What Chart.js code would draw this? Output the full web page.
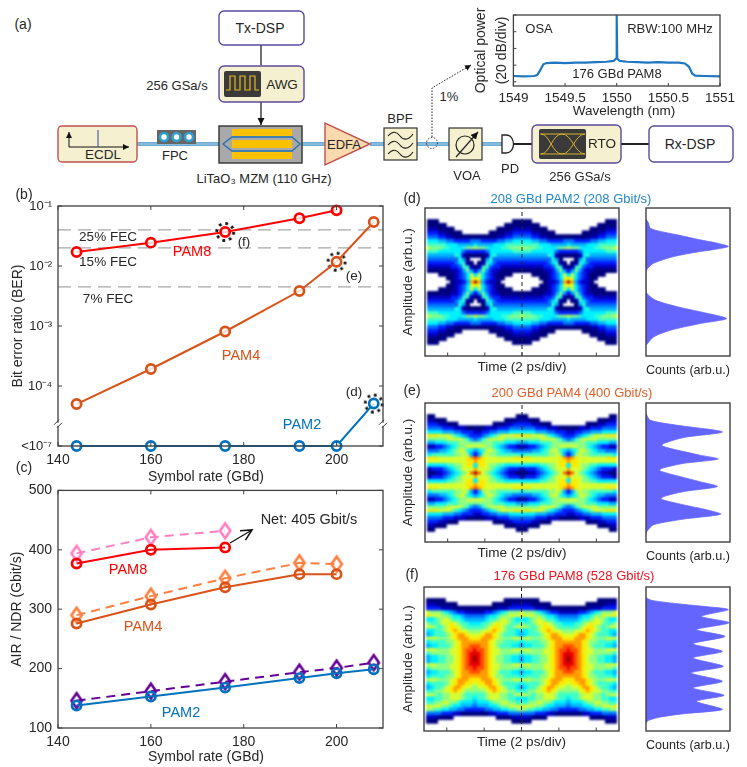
<!DOCTYPE html>
<html>
<head>
<meta charset="utf-8">
<title>PAM transmission results</title>
<script src="https://cdn.jsdelivr.net/npm/chart.js@4/dist/chart.umd.js"></script>
<style>
  html, body { margin: 0; padding: 0; background: #fff; }
  #page { position: relative; width: 747px; height: 767px; overflow: hidden; font-family: "Liberation Sans", Arial, sans-serif; color: #222; }
  #page canvas { position: absolute; }
  #page svg { position: absolute; left: 0; top: 0; }
  .note { position: absolute; transform: translate(-50%, -50%); white-space: nowrap; line-height: 1; }
  .clip { position: absolute; overflow: hidden; }
  .clip canvas { filter: blur(1.1px); }
</style>
</head>
<body>
<div id="page">
<svg width="747" height="767" viewBox="0 0 747 767">
  <defs>
    <marker id="tip" markerWidth="7" markerHeight="7" refX="6" refY="3" orient="auto"><path d="M0,0 L6,3 L0,6 Z" fill="#111"/></marker>
    <marker id="open" markerWidth="12" markerHeight="12" refX="10" refY="5" orient="auto"><path d="M1,0.5 L10,5 L1,9.5" fill="none" stroke="#111" stroke-width="1.3"/></marker>
  </defs>
  <!-- fibre -->
  <g stroke="#3f8fc4" stroke-width="3.5" fill="none">
    <path d="M137 144H219M302 144H325M370 144H385M417 144H449M482 144H502"/>
  </g>
  <g stroke="#cfe6f2" stroke-width="1" fill="none">
    <path d="M137 144H219M302 144H325M370 144H385M417 144H449M482 144H502"/>
  </g>
  <path d="M513 144H532M621 144H649" stroke="#222" stroke-width="2"/>
  <path d="M261 45V65M261 102V125" stroke="#111" stroke-width="1.2" marker-end="url(#tip)"/>
  <!-- boxes -->
  <rect x="219" y="11" width="85" height="34" rx="5" fill="#fff" stroke="#5b4a9c" stroke-width="1.4"/>
  <rect x="219" y="66" width="85" height="36" rx="5" fill="#f5f0cf" stroke="#5b4a9c" stroke-width="1.4"/>
  <rect x="224" y="71" width="37" height="26" rx="2" fill="#3a3a3a"/>
  <path d="M226 90H230V76H235V90H240V76H245V90H250V76H255V90H259" fill="none" stroke="#e8b820" stroke-width="1.2"/>
  <rect x="58" y="126" width="79" height="36" rx="4" fill="#f5f0cf" stroke="#c0504d" stroke-width="1.4"/>
  <path d="M69 147V132" stroke="#111" stroke-width="1" marker-end="url(#tip)"/>
  <path d="M69 147H129" stroke="#111" stroke-width="1" marker-end="url(#tip)"/>
  <path d="M98 130V147" stroke="#2c4a9c" stroke-width="1"/>
  <rect x="157" y="130" width="39" height="14" fill="#666"/>
  <g fill="#fff" stroke="#2f9fd0" stroke-width="2.6"><circle cx="164" cy="137" r="4"/><circle cx="176.500" cy="137" r="4"/><circle cx="189" cy="137" r="4"/></g>
  <rect x="219" y="126" width="83" height="37" fill="#a9a9a9" stroke="#333" stroke-width="1.4"/>
  <g fill="#ffc000"><rect x="232" y="129" width="60" height="7"/><rect x="232" y="140" width="60" height="8"/><rect x="232" y="152" width="60" height="7"/></g>
  <path d="M223 144L232 137H292L300 144L292 151H232Z" fill="none" stroke="#2070b0" stroke-width="1.3"/>
  <path d="M325 123V165L370 144Z" fill="#fbd9ae" stroke="#c0504d" stroke-width="1.4"/>
  <rect x="384" y="128" width="33" height="32" fill="#f5f0cf" stroke="#333" stroke-width="1.2"/>
  <g fill="none" stroke="#222" stroke-width="1.1">
    <path d="M388 136C393 130 397 132 400 136S408 141 413 134"/>
    <path d="M388 145C393 139 397 141 400 145S408 150 413 143"/>
    <path d="M388 154C393 148 397 150 400 154S408 159 413 152"/>
  </g>
  <circle cx="432" cy="143" r="5.5" fill="none" stroke="#222" stroke-width="0.9" stroke-dasharray="1.5 1.5"/>
  <path d="M432 137V88L471 65" fill="none" stroke="#222" stroke-width="1" stroke-dasharray="1.5 1.5" marker-end="url(#tip)"/>
  <rect x="449" y="128" width="33" height="32" fill="#f5f0cf" stroke="#333" stroke-width="1.2"/>
  <circle cx="465" cy="145" r="9" fill="none" stroke="#222" stroke-width="1.2"/>
  <path d="M456 157L478 132" stroke="#222" stroke-width="1.2" marker-end="url(#tip)"/>
  <path d="M502 135H506C516 135 516 153 506 153H502Z" fill="#fff" stroke="#222" stroke-width="1.3"/>
  <rect x="532" y="125" width="89" height="38" rx="5" fill="#f5f0cf" stroke="#5b4a9c" stroke-width="1.4"/>
  <rect x="539" y="129" width="47" height="30" rx="2" fill="#3a3a3a"/>
  <path d="M540 134H585M540 154H585M541 154C550 154 552 134 562 134S575 154 585 154M541 134C550 134 552 154 562 154S575 134 585 134" fill="none" stroke="#d8b030" stroke-width="1"/>
  <rect x="649" y="126" width="84" height="36" rx="5" fill="#fff" stroke="#5b4a9c" stroke-width="1.4"/>
  <!-- net rate arrow in (c) -->
  <path d="M230 543L252 530" stroke="#111" stroke-width="1.2" fill="none" marker-end="url(#open)"/>
</svg>

<canvas id="osa" style="left:470px;top:4px"></canvas>
<canvas id="ber" style="left:0;top:190px"></canvas>
<canvas id="rate" style="left:0;top:476px"></canvas>

<div class="clip" style="left:425px;top:208px;width:194px;height:148px"><canvas id="heatD" style="left:-2px;top:0"></canvas></div>
<div class="clip" style="left:425px;top:403px;width:194px;height:140px"><canvas id="heatE" style="left:-2px;top:0"></canvas></div>
<div class="clip" style="left:424px;top:587px;width:195px;height:144px"><canvas id="heatF" style="left:-2px;top:0"></canvas></div>
<canvas id="axesD" style="left:400px;top:204px"></canvas>
<canvas id="axesE" style="left:400px;top:399px"></canvas>
<canvas id="axesF" style="left:400px;top:583px"></canvas>
<canvas id="histD" style="left:640px;top:204px"></canvas>
<canvas id="histE" style="left:640px;top:399px"></canvas>
<canvas id="histF" style="left:640px;top:583px"></canvas>
</div>

<script>
const INK = '#262626';
const RED = '#ff0000';
const ORANGE = '#d95319';
const BLUE = '#0072bd';

// (b) bit error ratio. The <10^-7 floor sits one decade under 10^-4 on the drawn axis
const berTicks = [1e-1, 1e-2, 1e-3, 1e-4, 1e-5];
const berTickLabels = ['10⁻¹', '10⁻²', '10⁻³', '10⁻⁴', '<10⁻⁷'];
const rateTicks = [140, 160, 180, 200];
const ratesPam8 = [144, 160, 176, 192, 200];
const ratesPam4 = [144, 160, 176, 192, 200, 208];
const ratesPam2 = [144, 160, 176, 192, 200, 208];
const berPam8 = [0.0171, 0.0245, 0.0369, 0.0624, 0.0847];
const berPam4 = [5e-5, 1.92e-4, 8.1e-4, 3.83e-3, 0.0118, 0.054];
const berPam2 = [1e-5, 1e-5, 1e-5, 1e-5, 1e-5, 5.1e-5];
const fecLimits = [0.04, 0.02, 4.5e-3];
const circledRates = [176, 200, 208];
const circledBer = [0.0369, 0.0118, 5.1e-5];
const berAxisBreak = 2.3e-5;

// (c) achievable rate and net rate
const airTicks = [100, 200, 300, 400, 500];
const ratesNet8 = [144, 160, 176];
const ndrPam8 = [377, 400, 404];
const airPam8 = [394, 421, 432];
const ndrPam4 = [276, 308, 337, 359, 359];
const airPam4 = [290, 322, 352, 378, 376];
const ndrPam2 = [138, 153, 168, 184, 192, 199];
const airPam2 = [146, 162, 178, 194, 201, 210];

// (a) inset spectrum
const osaWavelength = [1549, 1549.1, 1549.2, 1549.23, 1549.26, 1549.29, 1549.32, 1549.4, 1549.5, 1549.6, 1549.7, 1549.8, 1549.9, 1549.97, 1549.995, 1550, 1550.005, 1550.03, 1550.1, 1550.2, 1550.3, 1550.4, 1550.5, 1550.6, 1550.66, 1550.7, 1550.73, 1550.76, 1550.85, 1551];
const osaPower = [-73, -73.5, -73, -72, -66, -59, -57.5, -57, -57.5, -57, -57, -56.5, -56, -55, -52, 0, -52, -55, -56, -56.5, -57, -56.5, -57, -57, -58, -62, -70, -72.5, -73, -73.5];
const osaWaveTicks = [1549, 1549.5, 1550, 1550.5, 1551];
const osaPowerTicks = [0, -20, -40, -60, -80];

// (d-f) amplitude histograms, amplitude in % of panel height, counts in % of panel width
const histAmpD = [92.5, 89.8, 86.4, 84.2, 81.9, 78.5, 76.2, 74, 71.7, 70.6, 67.2, 62.7, 59.3, 56.6, 43.4, 37.8, 33.3, 29.9, 25.3, 21.9, 17.4, 12.9, 7.2];
const histCountD = [0, 3, 5, 17, 37, 64, 85, 98, 78, 64, 33, 9, 2, 0, 0, 11, 37, 64, 96, 64, 29, 9, 0];
const histAmpE = [92.4, 87.6, 84, 79.2, 75.2, 70.9, 69.2, 66.1, 62.5, 59.7, 56.6, 53, 51.3, 47, 43.4, 39.9, 36.3, 32.7, 30.8, 26.7, 23.2, 20, 16.5, 12.4, 7.6, 5.7];
const histCountE = [0, 5, 37, 91, 45, 21, 19, 37, 64, 86, 45, 19, 16, 41, 64, 85, 45, 21, 18, 45, 72, 89, 45, 9, 1, 0];
const histAmpF = [92.6, 90.7, 88.4, 86.8, 84.3, 79.6, 75.2, 70.4, 65.7, 60.6, 55.3, 50.7, 44.9, 40.3, 34.5, 29.9, 24.8, 20.6, 15, 12, 9.7, 7.4, 5.6];
const histCountF = [0, 7, 37, 64, 98, 66, 99, 60, 94, 56, 91, 56, 92, 54, 91, 56, 93, 60, 91, 45, 17, 3, 0];

// (d-f) eye density. One hex digit per cell, . is no hits
const densityColors = ['#00007f', '#0000c0', '#0020ff', '#0070ff', '#00b4ff', '#00f0ff', '#40ffc8', '#90ff80', '#d8ff30', '#ffe800', '#ff9c00', '#ff4c00', '#e80000', '#900000'];
const eyeTimeTicks = [-4, -2, 0, 2, 4];

const eyeRowsD = [
  '............. ............ ............ ............',
  '............. ............ ............ ............',
  '000.......... .........000 00.......... .........000',
  '00000........ .......00000 0000........ .......00000',
  '1110000...... .....0000111 110000...... .....0000111',
  '222110000.... ...000011222 22110000.... ...000011222',
  '3332211000000 000001122333 332211000000 000001122333',
  '5554433222233 322223344555 554433222233 322223344555',
  '6666655544445 444455566666 666655544445 444455566666',
  '8777665556778 776555667778 777665556778 776555667778',
  '6665555553222 223555555666 665555553222 223555555666',
  '4444444651000 001564444444 444444651000 001564444444',
  '33333333640.. .04633333333 3333333640.. .04633333333',
  '222222235610. 016532222222 22222235610. 016532222222',
  '1111112236610 166322111111 111112236610 166322111111',
  '0000001124742 474211000000 000001124742 474211000000',
  '...0000123585 853210000... ..0000123585 853210000...',
  '.....00123589 8532100..... ....00123589 8532100.....',
  '......01124ad a42110...... .....01124ad a42110......',
  '.....00123589 8532100..... ....00123589 8532100.....',
  '...0000123585 853210000... ..0000123585 853210000...',
  '0000001124742 474211000000 000001124742 474211000000',
  '1111112236610 166322111111 111112236610 166322111111',
  '222222235610. 016532222222 22222235610. 016532222222',
  '33333333640.. .04633333333 3333333640.. .04633333333',
  '4444444651000 001564444444 444444651000 001564444444',
  '6665555553222 223555555666 665555553222 223555555666',
  '8777665556778 776555667778 777665556778 776555667778',
  '6666655544445 444455566666 666655544445 444455566666',
  '5554433222233 322223344555 554433222233 322223344555',
  '3332211000000 000001122333 332211000000 000001122333',
  '222110000.... ...000011222 22110000.... ...000011222',
  '1110000...... .....0000111 110000...... .....0000111',
  '00000........ .......00000 0000........ .......00000',
  '000.......... .........000 00.......... .........000',
  '............. ............ ............ ............',
  '............. ............ ............ ............'
];

const eyeRowsE = [
  '............. ............ ............ ............',
  '............. ............ ............ ............',
  '00........... ..........00 0........... ..........00',
  '11000........ .......00011 1000........ .......00011',
  '22211000..... ....00011222 2211000..... ....00011222',
  '3333222111000 001112223333 333222111000 001112223333',
  '5555444332221 122334445555 555444332221 122334445555',
  '9998887654322 234567888999 998887654322 234567888999',
  '7777788887643 467888877777 777788887643 467888877777',
  '4455566677777 777766655544 455566677777 777766655544',
  '1122345677888 887765432211 122345677888 887765432211',
  '3334456788654 568876544333 334456788654 568876544333',
  '5666666778742 478776666665 666666778742 478776666665',
  '99988888889ab a98888888999 9988888889ab a98888888999',
  '888888888899a 998888888888 88888888899a 998888888888',
  '5555566778995 998776655555 555566778995 998776655555',
  '122234567888a 888765432221 22234567888a 888765432221',
  '00112345678bd b87654321100 0112345678bd b87654321100',
  '122234567888a 888765432221 22234567888a 888765432221',
  '5555566778995 998776655555 555566778995 998776655555',
  '888888888899a 998888888888 88888888899a 998888888888',
  '99988888889ab a98888888999 9988888889ab a98888888999',
  '5666666778742 478776666665 666666778742 478776666665',
  '3334456788654 568876544333 334456788654 568876544333',
  '1122345677888 887765432211 122345677888 887765432211',
  '4455566677777 777766655544 455566677777 777766655544',
  '7777788887643 467888877777 777788887643 467888877777',
  '9998887654322 234567888999 998887654322 234567888999',
  '5555444332221 122334445555 555444332221 122334445555',
  '3333222111000 001112223333 333222111000 001112223333',
  '22211000..... ....00011222 2211000..... ....00011222',
  '11000........ .......00011 1000........ .......00011',
  '00........... ..........00 0........... ..........00',
  '............. ............ ............ ............',
  '............. ............ ............ ............'
];

const eyeRowsF = [
  '............. ............ ............ ............',
  '............. ............ ............ ............',
  '00000........ .......00000 0000........ .......00000',
  '11100000..... ....00000111 1100000..... ....00000111',
  '2222111000000 000001112222 222111000000 000001112222',
  '8777654322111 112234567778 777654322111 112234567778',
  '9888776554333 334556778889 888776554333 334556778889',
  '5567887665444 445667887655 567887665444 445667887655',
  '7667889876655 566789887667 667889876655 566789887667',
  '8876789987666 667899876788 876789987666 667899876788',
  '5566789a98877 7889a9876655 566789a98877 7889a9876655',
  '45666789aa988 89aa98766654 5666789aa988 89aa98766654',
  '88877789aaa99 9aaa98777888 8877789aaa99 9aaa98777888',
  '566667789aaaa aaa987766665 66667789aaaa aaa987766665',
  '455666789aabb baa987666554 55666789aabb baa987666554',
  '888777889abbc bba988777888 88777889abbc bba988777888',
  '677777889abcc cba988777776 77777889abcc cba988777776',
  '455667789abcd cba987766554 55667789abcd cba987766554',
  '455667789abcd cba987766554 55667789abcd cba987766554',
  '888777889abcc cba988777888 88777889abcc cba988777888',
  '677777889abbc bba988777776 77777889abbc bba988777776',
  '455666789aabb baa987666554 55666789aabb baa987666554',
  '566667789aaaa aaa987766665 66667789aaaa aaa987766665',
  '88877789aaa99 9aaa98777888 8877789aaa99 9aaa98777888',
  '56666789aa998 99aa98766665 6666789aa998 99aa98766665',
  '4566789aa9887 889aa9876654 566789aa9887 889aa9876654',
  '6677889a98777 7789a9887766 677889a98777 7789a9887766',
  '8876778887666 667888776788 876778887666 667888776788',
  '5566778887665 667888776655 566778887665 667888776655',
  '6677887765554 555677887766 677887765554 555677887766',
  '9888776554443 444556778889 888776554443 444556778889',
  '7766554433222 223344556677 766554433222 223344556677',
  '3333222110000 000112223333 333222110000 000112223333',
  '1110000...... .....0000111 110000...... .....0000111',
  '000.......... .........000 00.......... .........000',
  '............. ............ ............ ............'
];

// text that is not tied to an axis: text, x, y, colour, size
const notes = [
  ['(a)', 23, 24, INK, 14], ['Tx-DSP', 260, 28, INK, 14], ['AWG', 282, 85, INK, 13.5],
  ['256 GSa/s', 177, 85, INK, 13], ['ECDL', 103, 155, INK, 13.5], ['FPC', 175, 155, INK, 13],
  ['LiTaO₃ MZM (110 GHz)', 264, 178, INK, 13], ['EDFA', 344, 144, INK, 13], ['BPF', 400, 118, INK, 13],
  ['1%', 449, 96, INK, 13], ['VOA', 467, 175, INK, 13], ['PD', 510, 168, INK, 13],
  ['RTO', 602, 144, INK, 13.5], ['256 GSa/s', 580, 176, INK, 13], ['Rx-DSP', 690, 144, INK, 14],
  ['OSA', 539, 28, INK, 13], ['RBW:100 MHz', 670, 28, INK, 13], ['176 GBd PAM8', 617, 73, INK, 13],
  ['Wavelength (nm)', 624, 111, INK, 13.5],
  ['(b)', 24, 194, INK, 14], ['25% FEC', 108, 237, INK, 13.5], ['15% FEC', 108, 262, INK, 13.5], ['7% FEC', 108, 299, INK, 13.5],
  ['PAM8', 192, 251, RED, 14.5], ['(f)', 244, 242, INK, 13.5], ['(e)', 354, 276, INK, 13.5], ['PAM4', 241, 355, ORANGE, 14.5],
  ['(d)', 354, 392, INK, 13.5], ['PAM2', 302, 424, BLUE, 14.5], ['(c)', 24, 467, INK, 14],
  ['Symbol rate (GBd)', 206, 476, INK, 14], ['Symbol rate (GBd)', 206, 756, INK, 14],
  ['Net: 405 Gbit/s', 309, 519, INK, 14.5], ['PAM8', 128, 569, RED, 14.5], ['PAM4', 143, 626, ORANGE, 14.5], ['PAM2', 181, 712, BLUE, 14.5],
  ['(d)', 412, 198, INK, 14], ['208 GBd PAM2 (208 Gbit/s)', 571, 198, '#2088c8', 13],
  ['(e)', 412, 390, INK, 14], ['200 GBd PAM4 (400 Gbit/s)', 572, 392, '#e0602a', 13],
  ['(f)', 412, 574, INK, 14], ['176 GBd PAM8 (528 Gbit/s)', 574, 575, '#f01020', 13]
];

Chart.defaults.font.family = '"Liberation Sans", Arial, sans-serif';
Chart.defaults.font.size = 14;
Chart.defaults.color = INK;
Chart.defaults.animation = false;
Chart.defaults.responsive = false;
Chart.defaults.devicePixelRatio = 1;
Chart.defaults.plugins.legend.display = false;
Chart.defaults.plugins.tooltip.enabled = false;

function pairs(xs, ys) {
  return xs.map((x, i) => ({ x: x, y: ys[i] }));
}

function sizeCanvas(id, w, h) {
  const canvas = document.getElementById(id);
  canvas.width = w;
  canvas.height = h;
  return canvas;
}

// box round the plot with inward ticks on all four sides
const framePlugin = {
  id: 'frame',
  afterDraw(chart) {
    const { ctx, chartArea: a, scales } = chart;
    const opts = chart.options.plugins.frame;
    ctx.save();
    ctx.strokeStyle = opts.color || '#404040';
    ctx.lineWidth = opts.width || 1.3;
    ctx.strokeRect(a.left, a.top, a.right - a.left, a.bottom - a.top);
    ctx.lineWidth = 1;
    ctx.beginPath();
    if (opts.xTicks) {
      scales.x.ticks.forEach(t => {
        const px = scales.x.getPixelForValue(t.value);
        ctx.moveTo(px, a.bottom); ctx.lineTo(px, a.bottom - opts.xTicks);
        if (opts.both) { ctx.moveTo(px, a.top); ctx.lineTo(px, a.top + opts.xTicks); }
      });
    }
    if (opts.yTicks) {
      scales.y.ticks.forEach(t => {
        const py = scales.y.getPixelForValue(t.value);
        ctx.moveTo(a.left, py); ctx.lineTo(a.left + opts.yTicks, py);
        if (opts.both) { ctx.moveTo(a.right, py); ctx.lineTo(a.right - opts.yTicks, py); }
      });
    }
    ctx.stroke();
    if (opts.breakAt) {
      const py = scales.y.getPixelForValue(opts.breakAt);
      [a.left, a.right].forEach(px => {
        ctx.fillStyle = '#fff';
        ctx.fillRect(px - 3, py - 1.5, 6, 3);
        ctx.beginPath();
        ctx.moveTo(px - 4, py + 0.5); ctx.lineTo(px + 1, py - 4.5);
        ctx.moveTo(px - 1, py + 3.5); ctx.lineTo(px + 4, py - 1.5);
        ctx.stroke();
      });
    }
    ctx.restore();
  }
};

function hiddenGrid(extra) {
  return Object.assign({ grid: { display: false, drawTicks: false }, border: { display: false } }, extra);
}

function setTicks(values) {
  return scale => { scale.ticks = values.map(v => ({ value: v })); };
}

function dottedRing() {
  const c = document.createElement('canvas');
  c.width = c.height = 24;
  const g = c.getContext('2d');
  g.setLineDash([2.7, 3.97]);
  g.lineWidth = 2.8;
  g.strokeStyle = '#111';
  g.beginPath();
  g.arc(12, 12, 8.5, 0, Math.PI * 2);
  g.stroke();
  return c;
}

function diamond(color) {
  const c = document.createElement('canvas');
  c.width = 20;
  c.height = 24;
  const g = c.getContext('2d');
  g.lineWidth = 2.6;
  g.strokeStyle = color;
  g.beginPath();
  g.moveTo(10, 4.5); g.lineTo(15.2, 12); g.lineTo(10, 19.5); g.lineTo(4.8, 12);
  g.closePath();
  g.stroke();
  return c;
}

function circles(xs, ys, color, fill) {
  return {
    data: pairs(xs, ys),
    clip: false,
    borderColor: color,
    backgroundColor: 'transparent',
    borderWidth: 2,
    pointStyle: 'circle',
    pointRadius: 4.6,
    pointBorderColor: color,
    pointBorderWidth: 2.7,
    pointBackgroundColor: fill
  };
}

function diamonds(xs, ys, color) {
  return {
    data: pairs(xs, ys),
    clip: false,
    borderColor: color,
    backgroundColor: 'transparent',
    borderWidth: 2,
    borderDash: [9, 6],
    pointStyle: diamond(color)
  };
}

function fecLine(level) {
  return {
    data: [{ x: 140, y: level }, { x: 210, y: level }],
    borderColor: '#a6a6a6',
    borderWidth: 1.3,
    borderDash: [13, 7],
    pointRadius: 0
  };
}

function rateAxis(height) {
  return hiddenGrid({
    type: 'linear', min: 140, max: 210,
    afterBuildTicks: setTicks(rateTicks),
    afterFit: s => { s.height = height; },
    ticks: { padding: 6, autoSkip: false, maxRotation: 0, callback: v => String(v) }
  });
}

sizeCanvas('ber', 400, 296);
new Chart('ber', {
  type: 'line',
  data: {
    datasets: [
      circles(ratesPam8, berPam8, RED, 'rgba(255,255,255,0.8)'),
      circles(ratesPam4, berPam4, ORANGE, 'rgba(255,255,255,0.8)'),
      circles(ratesPam2, berPam2, BLUE, 'rgba(255,255,255,0.8)'),
      { data: pairs(circledRates, circledBer), clip: false, showLine: false, pointStyle: dottedRing() },
      ...fecLimits.map(fecLine)
    ]
  },
  options: {
    layout: { padding: { top: 16, right: 17 } },
    scales: {
      x: rateAxis(40),
      y: hiddenGrid({
        type: 'logarithmic', min: 1e-5, max: 1e-1,
        afterBuildTicks: setTicks(berTicks),
        afterFit: s => { s.width = 58; },
        ticks: { padding: 6, autoSkip: false, font: { size: 13 }, callback: v => berTickLabels[berTicks.findIndex(t => Math.abs(t - v) < t / 10)] },
        title: { display: true, text: 'Bit error ratio (BER)', padding: { top: 10, bottom: 0 }, font: { size: 14 } }
      })
    },
    plugins: { frame: { xTicks: 4, yTicks: 4, both: true, breakAt: berAxisBreak } }
  },
  plugins: [framePlugin]
});

sizeCanvas('rate', 400, 290);
new Chart('rate', {
  type: 'line',
  data: {
    datasets: [
      circles(ratesNet8, ndrPam8, RED, 'transparent'),
      circles(ratesPam4.slice(0, 5), ndrPam4, ORANGE, 'transparent'),
      circles(ratesPam2, ndrPam2, BLUE, 'transparent'),
      diamonds(ratesNet8, airPam8, '#ff80c0'),
      diamonds(ratesPam4.slice(0, 5), airPam4, '#ff7f3f'),
      diamonds(ratesPam2, airPam2, '#660099')
    ]
  },
  options: {
    layout: { padding: { top: 13, right: 17 } },
    scales: {
      x: rateAxis(38),
      y: hiddenGrid({
        type: 'linear', min: 100, max: 500,
        afterBuildTicks: setTicks(airTicks),
        afterFit: s => { s.width = 58; },
        ticks: { padding: 6, autoSkip: false },
        title: { display: true, text: 'AIR / NDR (Gbit/s)', padding: { top: 9, bottom: 0 }, font: { size: 14 } }
      })
    },
    plugins: { frame: { xTicks: 4, yTicks: 4, both: true } }
  },
  plugins: [framePlugin]
});

sizeCanvas('osa', 277, 114);
new Chart('osa', {
  type: 'line',
  data: {
    datasets: [{ data: pairs(osaWavelength, osaPower), borderColor: '#1f77c0', borderWidth: 2.2, pointRadius: 0, tension: 0 }]
  },
  options: {
    layout: { padding: { top: 11, right: 27 } },
    scales: {
      x: hiddenGrid({
        type: 'linear', min: 1549, max: 1551,
        afterBuildTicks: setTicks(osaWaveTicks),
        afterFit: s => { s.height = 32; },
        ticks: { padding: 4, autoSkip: false, maxRotation: 0, font: { size: 13.5 }, callback: v => String(v) }
      }),
      y: hiddenGrid({
        type: 'linear', min: -85, max: 0,
        afterBuildTicks: setTicks(osaPowerTicks),
        afterFit: s => { s.width = 43.4; },
        ticks: { display: false },
        title: { display: true, text: ['Optical power', '(20 dB/div)'], padding: { top: 1, bottom: 0 }, font: { size: 14, lineHeight: 1.5 } }
      })
    },
    plugins: { frame: { xTicks: 3, yTicks: 3 } }
  },
  plugins: [framePlugin]
});

function drawHeat(id, rows, plotWidth) {
  const grid = rows.map(r => r.replace(/ /g, ''));
  const levels = densityColors.map(() => []);
  grid.forEach((row, r) => {
    [...row].forEach((ch, c) => {
      if (ch !== '.') levels[parseInt(ch, 16)].push({ x: c, y: r + 0.5 });
    });
  });
  sizeCanvas(id, plotWidth + 4, grid.length * 4);
  new Chart(id, {
    type: 'scatter',
    data: {
      datasets: levels.map((cells, i) => ({
        data: cells,
        pointStyle: 'rect',
        pointRadius: 3.3,
        borderWidth: 0,
        pointBorderWidth: 0,
        backgroundColor: densityColors[i]
      }))
    },
    options: {
      layout: { padding: 0 },
      scales: {
        x: { display: false, type: 'linear', min: -0.5, max: 48.5 },
        y: { display: false, type: 'linear', min: 0, max: grid.length, reverse: true }
      }
    }
  });
}

function drawEyeAxes(id, plotHeight, plotLeft, titleGap) {
  sizeCanvas(id, 225, plotHeight + 4 + titleGap);
  new Chart(id, {
    type: 'line',
    data: {
      datasets: [{ data: [{ x: 0, y: 0 }, { x: 0, y: 1 }], borderColor: '#222', borderWidth: 1, borderDash: [4, 3], pointRadius: 0 }]
    },
    options: {
      layout: { padding: { top: 4, right: 6 } },
      scales: {
        x: hiddenGrid({
          type: 'linear', min: -5.22, max: 5.22,
          afterBuildTicks: setTicks(eyeTimeTicks),
          afterFit: s => { s.height = titleGap; },
          ticks: { display: false },
          title: { display: true, text: 'Time (2 ps/div)', padding: { top: 0, bottom: 1 }, font: { size: 13.5 } }
        }),
        y: hiddenGrid({
          type: 'linear', min: 0, max: 1,
          afterFit: s => { s.width = plotLeft; },
          afterBuildTicks: setTicks([]),
          ticks: { display: false },
          title: { display: true, text: 'Amplitude (arb.u.)', padding: { top: 0, bottom: 0 }, font: { size: 13.5 } }
        })
      },
      plugins: { frame: { xTicks: 3.5, width: 1.4 } }
    },
    plugins: [framePlugin]
  });
}

function drawHist(id, amps, counts, plotHeight, titleGap) {
  sizeCanvas(id, 107, plotHeight + 4 + titleGap);
  new Chart(id, {
    type: 'line',
    data: {
      datasets: [{ data: pairs(counts, amps), borderColor: '#6464ff', borderWidth: 0.8, backgroundColor: '#6464ff', fill: 'origin', pointRadius: 0, tension: 0.25 }]
    },
    options: {
      indexAxis: 'y',
      layout: { padding: { top: 4, left: 6, right: 17 } },
      scales: {
        x: hiddenGrid({
          type: 'linear', min: 0, max: 100,
          afterBuildTicks: setTicks([]),
          afterFit: s => { s.height = titleGap; },
          ticks: { display: false },
          title: { display: true, text: 'Counts (arb.u.)', padding: { top: 0, bottom: 0 }, font: { size: 13.5 } }
        }),
        y: { display: false, type: 'linear', min: 0, max: 100 }
      },
      plugins: { frame: { width: 1.4 } }
    },
    plugins: [framePlugin]
  });
}

drawHeat('heatD', eyeRowsD, 194);
drawHeat('heatE', eyeRowsE, 194);
drawHeat('heatF', eyeRowsF, 195);
drawEyeAxes('axesD', 148, 25, 20);
drawEyeAxes('axesE', 139, 25, 20);
drawEyeAxes('axesF', 144, 24, 20);
drawHist('histD', histAmpD, histCountD, 148, 22);
drawHist('histE', histAmpE, histCountE, 139, 22);
drawHist('histF', histAmpF, histCountF, 144, 22);

const page = document.getElementById('page');
notes.forEach(n => {
  const el = document.createElement('div');
  el.className = 'note';
  el.textContent = n[0];
  el.style.left = n[1] + 'px';
  el.style.top = n[2] + 'px';
  el.style.color = n[3];
  el.style.fontSize = n[4] + 'px';
  page.appendChild(el);
});
</script>
</body>
</html>
